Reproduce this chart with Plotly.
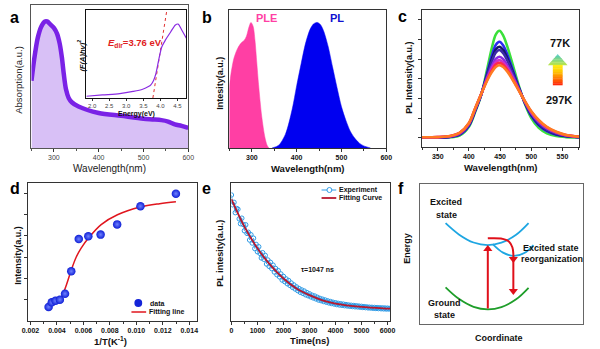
import plotly.graph_objects as go

W, H = 600, 349
FONT = "Liberation Sans, Arial, Helvetica, sans-serif"

# ---------------- data ----------------
# (a) absorption spectrum
abs_wl = [250, 256, 264, 272, 280, 285, 292, 300, 307, 313, 318, 322, 327, 333, 340, 355,
          400, 450, 500, 520, 540, 555, 570, 585, 600]
abs_val = [0.47, 0.62, 0.77, 0.85, 0.885, 0.885, 0.865, 0.84, 0.80, 0.73, 0.63, 0.52, 0.41, 0.35,
           0.32, 0.29, 0.245, 0.225, 0.205, 0.20, 0.195, 0.185, 0.165, 0.155, 0.14]
# (a) inset Tauc plot
tauc_E = [1.83, 2.3, 2.81, 3.2, 3.48, 3.65, 3.72, 3.8, 3.87, 3.96, 4.04, 4.15, 4.30, 4.44, 4.52, 4.63, 4.76]
tauc_val = [0.02, 0.035, 0.05, 0.075, 0.10, 0.13, 0.15, 0.20, 0.28, 0.45, 0.58, 0.66, 0.75, 0.83, 0.84, 0.77, 0.68]
tangent_E = [3.78, 4.19]
tangent_val = [0.0, 1.0]

# (b) PLE / PL
ple_wl = [249, 254, 260, 268, 276, 283, 288, 293, 298, 303, 307, 311, 315, 322, 329, 334, 338]
ple_val = [0.42, 0.55, 0.65, 0.72, 0.76, 0.78, 0.81, 0.87, 0.91, 0.88, 0.78, 0.62, 0.46, 0.23, 0.08, 0.02, 0.0]
pl_wl = [345, 360, 375, 390, 400, 410, 420, 430, 438, 446, 453, 460, 470, 480, 490, 500, 510, 520, 530, 540, 550, 565]
pl_val = [0.0, 0.02, 0.10, 0.28, 0.45, 0.61, 0.76, 0.86, 0.90, 0.91, 0.895, 0.85, 0.74, 0.59, 0.44, 0.30,
          0.20, 0.12, 0.07, 0.035, 0.015, 0.0]

# (c) temperature-dependent PL
c_wl = [325, 350, 370, 385, 400, 410, 420, 430, 437, 443, 449, 455, 462, 470, 480, 490, 500, 512, 525, 540, 555, 577]
pl_77K = [0, 0, 0.02, 0.1, 0.55, 1.3, 2.2, 3.6, 4.6, 5.25, 5.44, 5.2, 4.6, 3.75, 2.65, 1.7, 1.0, 0.5, 0.22, 0.08, 0.03, 0.01]
pl_97K = [0.01, 0.01, 0.04, 0.15, 0.61, 1.36, 2.22, 3.39, 4.2, 4.72, 4.88, 4.69, 4.2, 3.49, 2.57, 1.75, 1.11, 0.63, 0.33, 0.15, 0.07, 0.02]
pl_117K = [0.01, 0.01, 0.05, 0.17, 0.64, 1.39, 2.22, 3.3, 4.02, 4.49, 4.63, 4.46, 4.02, 3.38, 2.53, 1.77, 1.16, 0.68, 0.37, 0.18, 0.09, 0.03]
pl_137K = [0.01, 0.02, 0.05, 0.18, 0.66, 1.41, 2.23, 3.24, 3.9, 4.33, 4.46, 4.3, 3.9, 3.3, 2.51, 1.78, 1.2, 0.72, 0.4, 0.2, 0.1, 0.03]
pl_177K = [0.02, 0.02, 0.07, 0.21, 0.7, 1.45, 2.24, 3.11, 3.66, 4.01, 4.12, 4.0, 3.66, 3.15, 2.46, 1.81, 1.26, 0.8, 0.47, 0.25, 0.12, 0.04]
pl_217K = [0.02, 0.03, 0.07, 0.23, 0.72, 1.47, 2.24, 3.05, 3.54, 3.85, 3.95, 3.84, 3.54, 3.07, 2.44, 1.83, 1.3, 0.84, 0.5, 0.27, 0.13, 0.04]
pl_257K = [0.02, 0.03, 0.08, 0.24, 0.74, 1.49, 2.25, 3.0, 3.44, 3.72, 3.81, 3.71, 3.44, 3.0, 2.42, 1.84, 1.33, 0.87, 0.53, 0.29, 0.14, 0.05]
pl_297K = [0.02, 0.03, 0.08, 0.25, 0.75, 1.5, 2.25, 2.95, 3.35, 3.6, 3.69, 3.6, 3.35, 2.95, 2.4, 1.85, 1.35, 0.9, 0.55, 0.3, 0.15, 0.05]
c_series = [("77K", pl_77K, "#3ae03a"), ("97K", pl_97K, "#2a2af0"), ("117K", pl_117K, "#16166e"),
            ("137K", pl_137K, "#3b2aa8"), ("177K", pl_177K, "#8a2be2"), ("217K", pl_217K, "#d030c8"),
            ("257K", pl_257K, "#ff2a4a"), ("297K", pl_297K, "#ff7a22")]

# (d) integrated intensity vs 1/T
d_invT = [0.00337, 0.00361, 0.00389, 0.00422, 0.00461, 0.00508, 0.00565, 0.00637, 0.00730, 0.00855, 0.01031, 0.01299]
d_int = [0.66, 0.875, 0.95, 1.0, 1.28, 2.33, 3.84, 3.97, 4.05, 4.53, 5.38, 5.97]
fit_invT = [0.00435, 0.00472, 0.00509, 0.00546, 0.00583, 0.00640, 0.00734, 0.00857, 0.01030, 0.01176, 0.01299]
fit_int = [1.08, 1.7, 2.4, 3.0, 3.42, 3.9, 4.52, 4.98, 5.34, 5.5, 5.59]

# (e) PL decay (time step 50 ns)
e_t = list(range(0, 6101, 50))
e_exp = [0.913, 0.842, 0.86, 0.785, 0.815, 0.81, 0.74, 0.705, 0.745, 0.70,
         0.654, 0.697, 0.635, 0.643, 0.587, 0.625, 0.565, 0.60, 0.525, 0.555,
         0.502, 0.538, 0.49, 0.457, 0.495, 0.447, 0.475, 0.413, 0.442, 0.396,
         0.425, 0.38, 0.405, 0.355, 0.38, 0.335, 0.365, 0.32, 0.341, 0.297,
         0.323, 0.285, 0.305, 0.27, 0.293, 0.258, 0.275, 0.244, 0.261, 0.232,
         0.247, 0.22, 0.235, 0.208, 0.225, 0.20, 0.217, 0.19, 0.206, 0.183,
         0.197, 0.175, 0.187, 0.167, 0.181, 0.16, 0.172, 0.152, 0.164, 0.147,
         0.158, 0.141, 0.152, 0.136, 0.146, 0.131, 0.141, 0.127, 0.136, 0.123,
         0.132, 0.119, 0.128, 0.116, 0.125, 0.114, 0.122, 0.111, 0.119, 0.109,
         0.116, 0.107, 0.114, 0.105, 0.112, 0.103, 0.11, 0.102, 0.108, 0.10,
         0.106, 0.098, 0.104, 0.097, 0.102, 0.095, 0.10, 0.094, 0.099, 0.092,
         0.098, 0.091, 0.097, 0.09, 0.096, 0.089, 0.095, 0.088, 0.094, 0.087,
         0.093, 0.087, 0.092]
e_fit_t = [0, 500, 1000, 1500, 2000, 2500, 3000, 3500, 4000, 5000, 6000, 6100]
e_fit = [0.883, 0.684, 0.527, 0.405, 0.308, 0.235, 0.187, 0.150, 0.126, 0.102, 0.090, 0.089]

# (f) schematic configuration-coordinate diagram
exc1_x = [0.159, 0.24, 0.33, 0.417, 0.50, 0.59, 0.666]
exc1_y = [0.72, 0.64, 0.582, 0.564, 0.581, 0.637, 0.72]
exc2_x = [0.447, 0.51, 0.577, 0.64, 0.696]
exc2_y = [0.571, 0.51, 0.486, 0.507, 0.564]
gnd_x = [0.159, 0.24, 0.33, 0.417, 0.50, 0.59, 0.666]
gnd_y = [0.262, 0.18, 0.123, 0.105, 0.121, 0.176, 0.258]
relax_x = [0.417, 0.497, 0.547, 0.567, 0.573, 0.573]
relax_y = [0.612, 0.610, 0.588, 0.548, 0.50, 0.475]
absorb_x = [0.417, 0.417]
absorb_y = [0.11, 0.53]
emit_x = [0.573, 0.573]
emit_y = [0.45, 0.24]
head_up_x, head_up_y = [0.417], [0.535]
head_dn_x, head_dn_y = [0.573, 0.573], [0.465, 0.235]

# ---------------- helpers ----------------
def dx(x0, x1):
    return [x0 / W, x1 / W]

def dy(y0, y1):
    return [1 - y1 / H, 1 - y0 / H]

def axis(dom, **kw):
    d = dict(domain=dom, showline=True, linecolor="#333", linewidth=1, mirror=True,
             showgrid=False, zeroline=False, ticks="outside", ticklen=3, tickwidth=1,
             tickcolor="#333", tickfont=dict(size=7, family=FONT, color="#111", weight="bold"),
             fixedrange=True)
    d.update(kw)
    return d

def noticks(dom, **kw):
    return axis(dom, ticks="", showticklabels=False, **kw)

anns = []
shapes = []

def text(px, py, s, size=9, color="#111", angle=0, xanchor="center", bold=True, italic=False):
    t = s
    if bold:
        t = "<b>" + t + "</b>"
    if italic:
        t = "<i>" + t + "</i>"
    anns.append(dict(x=px / W, y=1 - py / H, xref="paper", yref="paper", text=t, showarrow=False,
                     textangle=angle, xanchor=xanchor, yanchor="middle",
                     font=dict(size=size, color=color, family=FONT)))

fig = go.Figure()

# (a)
fig.add_trace(go.Scatter(x=abs_wl, y=abs_val, mode="lines", fill="tozeroy", fillcolor="#d8c0f6",
                         line=dict(color="#7a22e6", width=4.5, shape="spline", smoothing=0.8),
                         xaxis="x", yaxis="y"))
# (b)
fig.add_trace(go.Scatter(x=ple_wl, y=ple_val, mode="lines", fill="tozeroy", fillcolor="#ff3fa4",
                         line=dict(color="#ff3fa4", width=0.5, shape="spline", smoothing=0.8),
                         xaxis="x2", yaxis="y2"))
fig.add_trace(go.Scatter(x=pl_wl, y=pl_val, mode="lines", fill="tozeroy", fillcolor="#0000f0",
                         line=dict(color="#0000f0", width=0.5, shape="spline", smoothing=0.8),
                         xaxis="x2", yaxis="y2"))
# (c)
for name, vals, col in c_series:
    fig.add_trace(go.Scatter(x=c_wl, y=vals, mode="lines", name=name,
                             line=dict(color=col, width=2.6, shape="spline", smoothing=0.9),
                             xaxis="x3", yaxis="y3"))
# (d)
fig.add_trace(go.Scatter(x=fit_invT, y=fit_int, mode="lines",
                         line=dict(color="#e0161e", width=1.5, shape="spline", smoothing=1),
                         xaxis="x4", yaxis="y4"))
fig.add_trace(go.Scatter(x=d_invT, y=d_int, mode="markers",
                         marker=dict(size=8.5, color="#0f1fd6", line=dict(width=0),
                                     gradient=dict(type="radial", color="#6f82ff")),
                         xaxis="x4", yaxis="y4"))
# (e)
fig.add_trace(go.Scatter(x=e_t, y=e_exp, mode="lines+markers",
                         line=dict(color="#3aa3ea", width=0.8),
                         marker=dict(symbol="circle-open", size=4.5, color="#2f9be6", line=dict(width=1)),
                         xaxis="x5", yaxis="y5"))
fig.add_trace(go.Scatter(x=e_fit_t, y=e_fit, mode="lines",
                         line=dict(color="#b8182e", width=1.8, shape="spline", smoothing=1),
                         xaxis="x5", yaxis="y5"))
# (f)
for xs, ys, col in [(exc1_x, exc1_y, "#1ea6e2"), (exc2_x, exc2_y, "#1ea6e2"), (gnd_x, gnd_y, "#1f9e2a")]:
    fig.add_trace(go.Scatter(x=xs, y=ys, mode="lines", line=dict(color=col, width=1.8, shape="spline"),
                             xaxis="x6", yaxis="y6"))
for xs, ys in [(relax_x, relax_y), (absorb_x, absorb_y), (emit_x, emit_y)]:
    fig.add_trace(go.Scatter(x=xs, y=ys, mode="lines", line=dict(color="#e0101a", width=2, shape="spline"),
                             xaxis="x6", yaxis="y6"))
fig.add_trace(go.Scatter(x=head_up_x, y=head_up_y, mode="markers",
                         marker=dict(symbol="triangle-up", size=8, color="#e0101a"), xaxis="x6", yaxis="y6"))
fig.add_trace(go.Scatter(x=head_dn_x, y=head_dn_y, mode="markers",
                         marker=dict(symbol="triangle-down", size=8, color="#e0101a"), xaxis="x6", yaxis="y6"))
# inset
fig.add_trace(go.Scatter(x=tangent_E, y=tangent_val, mode="lines", line=dict(color="#e03030", width=1, dash="dot"),
                         xaxis="x7", yaxis="y7"))
fig.add_trace(go.Scatter(x=tauc_E, y=tauc_val, mode="lines",
                         line=dict(color="#8a2be2", width=1.2, shape="spline", smoothing=0.8),
                         xaxis="x7", yaxis="y7"))

# ---------------- texts ----------------
for lab, px, py in [("a", 9, 17), ("b", 205, 17), ("c", 405, 16), ("d", 9, 188), ("e", 205, 188), ("f", 403, 188)]:
    text(px, py, lab, size=16, color="#000")

text(106, 169, "Wavelength(nm)", size=10, color="#222", bold=False)
text(12, 80, "Absorption(a.u.)", size=9.5, color="#222", angle=-90, bold=False)
text(133, 113.5, "Energy(eV)", size=7)
text(77, 55, "(F(A)hv)<sup>2</sup>", size=7.5, angle=-90, italic=True)
text(102, 43, "<i>E</i><sub>dir</sub>=3.76 eV", size=9.5, color="#e02020", xanchor="left")

text(308, 169, "Wavelength(nm)", size=9.5)
text(218, 83, "Intesity(a.u.)", size=9, angle=-90)
text(266, 18, "PLE", size=11, color="#ff3fa4")
text(338, 18, "PL", size=11, color="#1010d0")

text(505, 168, "Wavelength(nm)", size=9.5)
text(411, 78, "PL Intensity(a.u.)", size=9, angle=-90)
text(565, 43, "77K", size=11)
text(564, 100, "297K", size=11)

text(107, 341, "1/T(K<sup>-1</sup>)", size=9.5)
text(12, 255, "Intensity(a.u.)", size=9, angle=-90)
text(145, 303, "data", size=7, xanchor="left")
text(144, 312, "Fitting line", size=7, xanchor="left")

text(310, 340, "Time(ns)", size=9.5)
text(218, 253, "PL intesity(a.u.)", size=9, angle=-90)
text(338, 190, "Experiment", size=7, xanchor="left")
text(338, 198, "Fitting Curve", size=7, xanchor="left")
text(318, 269, "τ=1047 ns", size=7)

text(449, 202, "Excited", size=9)
text(449, 215, "state", size=9)
text(447, 303, "Ground", size=9)
text(447, 315, "state", size=9)
text(525, 248, "Excited state", size=9, xanchor="left")
text(523, 259, "reorganization", size=9, xanchor="left")
text(409, 248, "Energy", size=9, angle=-90)
text(503, 338, "Coordinate", size=9)

# ---------------- legend keys (paper coords) ----------------
def P(px, py):
    return px / W, 1 - py / H

x0, y0 = P(131, 299)
x1, y1 = P(139, 307)
shapes.append(dict(type="circle", xref="paper", yref="paper", x0=x0, x1=x1, y0=y1, y1=y0,
                   fillcolor="#1424d8", line=dict(width=0)))
a0, b0 = P(128, 312)
a1, _ = P(143, 312)
shapes.append(dict(type="line", xref="paper", yref="paper", x0=a0, x1=a1, y0=b0, y1=b0,
                   line=dict(color="#e0161e", width=1.5)))
a0, b0 = P(322, 190)
a1, _ = P(337, 190)
shapes.append(dict(type="line", xref="paper", yref="paper", x0=a0, x1=a1, y0=b0, y1=b0,
                   line=dict(color="#2f9be6", width=1)))
c0, d0 = P(327.5, 187.5)
c1, d1 = P(332.5, 192.5)
shapes.append(dict(type="circle", xref="paper", yref="paper", x0=c0, x1=c1, y0=d1, y1=d0,
                   fillcolor="white", line=dict(color="#2f9be6", width=1)))
a0, b0 = P(322, 198)
a1, _ = P(337, 198)
shapes.append(dict(type="line", xref="paper", yref="paper", x0=a0, x1=a1, y0=b0, y1=b0,
                   line=dict(color="#b8182e", width=1.8)))

# gradient arrow in (c)
def mix(c1, c2, t):
    return "rgb(%d,%d,%d)" % tuple(round(c1[i] + (c2[i] - c1[i]) * t) for i in range(3))

def path(pts):
    return "M" + " L".join("%f,%f" % P(px, py) for px, py in pts) + " Z"

head_top, head_bot = (70, 200, 200), (190, 230, 70)
n = 8
for i in range(n):
    ya = 54 + 11 * i / n
    yb = 54 + 11 * (i + 1) / n
    ha = 10 * (ya - 54) / 11
    hb = 10 * (yb - 54) / 11
    shapes.append(dict(type="path", xref="paper", yref="paper",
                       path=path([(563 - ha, ya), (563 + ha, ya), (563 + hb, yb + 0.3), (563 - hb, yb + 0.3)]),
                       fillcolor=mix(head_top, head_bot, (i + 0.5) / n), line=dict(width=0)))
stops = [(255, 240, 20), (255, 200, 0), (255, 120, 0), (255, 30, 10)]
m = 12
for i in range(m):
    ya = 65 + 20 * i / m
    yb = 65 + 20 * (i + 1) / m
    t = (i + 0.5) / m * (len(stops) - 1)
    k = min(int(t), len(stops) - 2)
    shapes.append(dict(type="path", xref="paper", yref="paper",
                       path=path([(558, ya), (568, ya), (568, yb + 0.3), (558, yb + 0.3)]),
                       fillcolor=mix(stops[k], stops[k + 1], t - k), line=dict(width=0)))

gray_tick = dict(size=7, family=FONT, color="#444")
fig.update_layout(
    width=W, height=H, margin=dict(l=0, r=0, t=0, b=0), autosize=False,
    paper_bgcolor="white", plot_bgcolor="white", showlegend=False,
    font=dict(family=FONT),
    xaxis=axis(dx(26, 186), range=[250, 600], dtick=100, tick0=0, anchor="y", tickfont=gray_tick,
               linecolor="#555", minor=dict(ticks="outside", ticklen=2, dtick=50, tick0=0, tickcolor="#555")),
    yaxis=noticks(dy(5, 148), range=[0, 1], anchor="x", linecolor="#555"),
    xaxis2=axis(dx(228, 388), range=[250, 600], dtick=100, tick0=0, anchor="y2",
                minor=dict(ticks="outside", ticklen=2, dtick=50, tick0=0, tickcolor="#333")),
    yaxis2=noticks(dy(10, 148), range=[0, 1], anchor="x2"),
    xaxis3=axis(dx(424, 585), range=[324, 577], dtick=50, tick0=0, anchor="y3",
                minor=dict(ticks="outside", ticklen=2, dtick=25, tick0=0, tickcolor="#333")),
    yaxis3=axis(dy(10, 146.7), range=[-0.46, 6.5], tickvals=[0, 1, 2, 3, 4, 5, 6], showticklabels=False,
                anchor="x3"),
    xaxis4=axis(dx(22, 195), range=[0.00178, 0.01459], dtick=0.002, tick0=0, tickformat=".3f", anchor="y4",
                minor=dict(ticks="outside", ticklen=2, dtick=0.001, tick0=0, tickcolor="#333")),
    yaxis4=axis(dy(183, 321), range=[0, 6.47], tickvals=[1, 2, 3, 4, 5, 6], showticklabels=False, anchor="x4"),
    xaxis5=axis(dx(230, 392), range=[0, 6100], dtick=1000, tick0=0, anchor="y5",
                minor=dict(ticks="outside", ticklen=2, dtick=500, tick0=0, tickcolor="#333")),
    yaxis5=noticks(dy(183, 321), range=[0, 1], anchor="x5"),
    xaxis6=noticks(dx(422, 589), range=[0, 1], anchor="y6", linecolor="#666"),
    yaxis6=noticks(dy(184, 324), range=[0, 1], anchor="x6", linecolor="#666"),
    xaxis7=axis(dx(82, 184), range=[1.83, 4.76], dtick=0.5, tick0=0, tickformat=".1f", anchor="y7",
                ticklen=2, tickfont=dict(size=6, family=FONT, color="#444"), linecolor="#111"),
    yaxis7=noticks(dy(10, 98), range=[0, 1], anchor="x7", linecolor="#111"),
    annotations=anns, shapes=shapes,
)

fig.write_html("out.html")
